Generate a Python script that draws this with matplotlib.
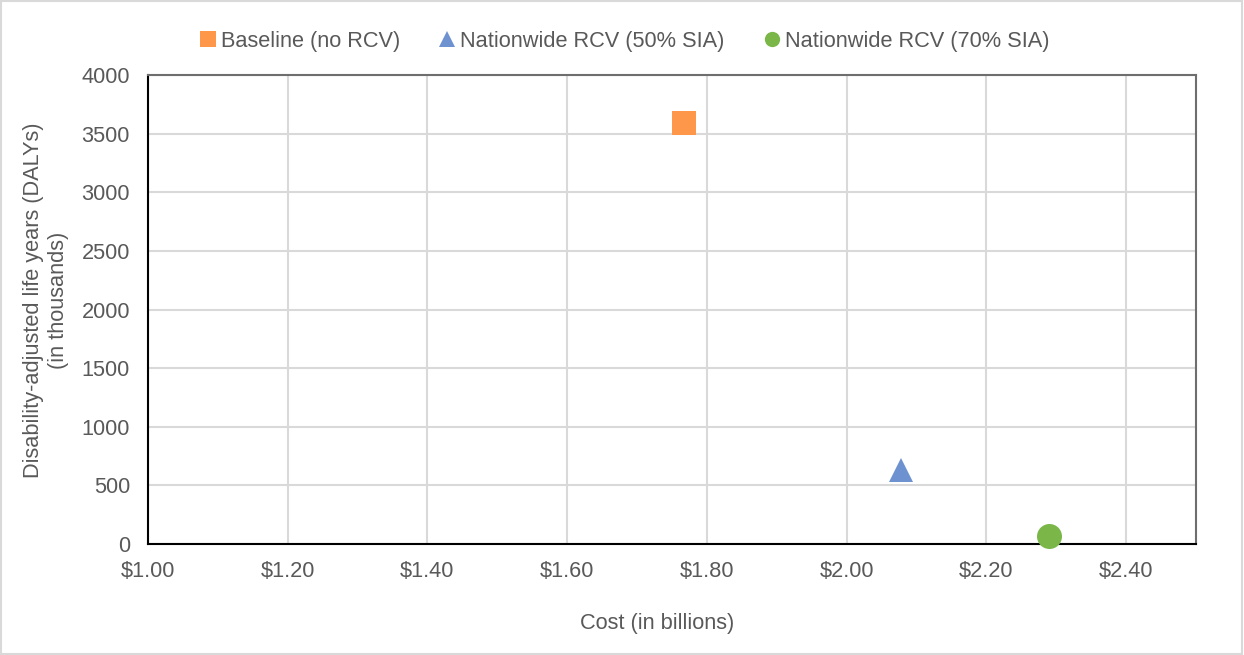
import matplotlib
matplotlib.use("Agg")
import matplotlib.pyplot as plt
from matplotlib.patches import Rectangle
from matplotlib.ticker import FuncFormatter

plt.rcParams['font.family'] = ['Liberation Sans', 'DejaVu Sans']

# data
series_names = ["Baseline (no RCV)", "Nationwide RCV (50% SIA)", "Nationwide RCV (70% SIA)"]
cost_billions = [1.767, 2.078, 2.289]
dalys_thousands = [3590, 635, 70]
colors = ["#FF974A", "#6E92D0", "#7AB648"]
markers = ["s", "^", "o"]
sizes = [17, 17, 18]

x_ticks = [1.0, 1.2, 1.4, 1.6, 1.8, 2.0, 2.2, 2.4]
y_ticks = [0, 500, 1000, 1500, 2000, 2500, 3000, 3500, 4000]

grey = "#595959"
fs = 15.7

fig = plt.figure(figsize=(12.44, 6.55), dpi=100)
ax = fig.add_axes([148 / 1244, 111 / 655, 1048 / 1244, 469 / 655])

for name, x, y, c, m, s in zip(series_names, cost_billions, dalys_thousands, colors, markers, sizes):
    ax.plot([x], [y], linestyle="none", marker=m, color=c, markersize=s,
            markeredgewidth=0, label=name, zorder=3, clip_on=False)

ax.set_xlim(1.0, 2.5)
ax.set_ylim(0, 4000)
ax.set_xticks(x_ticks)
ax.set_yticks(y_ticks)
ax.xaxis.set_major_formatter(FuncFormatter(lambda v, p: "${:.2f}".format(v)))
ax.grid(True, color="#d9d9d9", linewidth=1.5)
ax.set_axisbelow(True)
ax.tick_params(length=0, labelsize=fs, labelcolor=grey)
ax.tick_params(axis="y", pad=13)
ax.tick_params(axis="x", pad=12)

for side in ["top", "right"]:
    ax.spines[side].set_color("#6e6e6e")
    ax.spines[side].set_linewidth(1.5)
for side in ["left", "bottom"]:
    ax.spines[side].set_color("black")
    ax.spines[side].set_linewidth(1.5)

ax.set_xlabel("Cost (in billions)", fontsize=fs, color=grey)
ax.xaxis.set_label_coords(0.486, -0.148)
ax.set_ylabel("Disability-adjusted life years (DALYs)\n(in thousands)", fontsize=fs,
              color=grey, linespacing=1.25)
ax.yaxis.set_label_coords(-0.075, 0.52)

handles = [plt.Line2D([], [], linestyle="none", marker=m, color=c, markersize=11, markeredgewidth=0)
           for m, c in zip(markers, colors)]
fig.legend(handles, series_names, loc="center", bbox_to_anchor=(0.5, 1 - 41 / 655), ncol=3,
           frameon=False, fontsize=fs, labelcolor=grey, handletextpad=0.0,
           columnspacing=1.55, handlelength=1.2)

fig.patches.append(Rectangle((0.001, 0.002), 0.997, 0.996, transform=fig.transFigure,
                             fill=False, edgecolor="#d9d9d9", linewidth=1.5))

fig.savefig("out.png", dpi=100)
